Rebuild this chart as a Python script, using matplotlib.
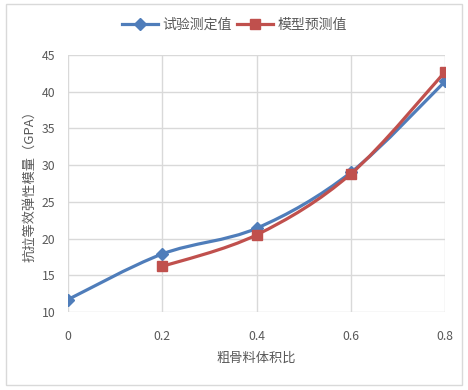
#! /usr/bin/env python3
"""Elastic modulus vs coarse aggregate volume ratio: test vs model."""

import matplotlib
matplotlib.use("Agg")
import matplotlib.pyplot as plt
from matplotlib.path import Path
from matplotlib.patches import PathPatch, Rectangle
from matplotlib.lines import Line2D

plt.rcParams["font.family"] = ["Noto Sans CJK SC", "DejaVu Sans"]

# data
test_x = [0, 0.2, 0.4, 0.6, 0.8]
test_y = [11.7, 17.9, 21.4, 29.0, 41.4]
model_x = [0.2, 0.4, 0.6, 0.8]
model_y = [16.2, 20.5, 28.8, 42.7]
x_ticks = [0, 0.2, 0.4, 0.6, 0.8]
x_tick_labels = ["0", "0.2", "0.4", "0.6", "0.8"]
y_ticks = [10, 15, 20, 25, 30, 35, 40, 45]

BLUE = "#4F7DBA"
RED = "#C0504D"
GRID = "#D9D9D9"
TEXT = "#595959"


def smooth_path(xs, ys):
    """Excel-style smoothed line as a cubic Bezier path through the points."""
    pts = list(zip(xs, ys))
    verts = [pts[0]]
    codes = [Path.MOVETO]
    n = len(pts)
    for i in range(n - 1):
        p0 = pts[i - 1] if i > 0 else pts[i]
        p1 = pts[i]
        p2 = pts[i + 1]
        p3 = pts[i + 2] if i + 2 < n else pts[i + 1]
        c1 = (p1[0] + (p2[0] - p0[0]) / 6, p1[1] + (p2[1] - p0[1]) / 6)
        c2 = (p2[0] - (p3[0] - p1[0]) / 6, p2[1] - (p3[1] - p1[1]) / 6)
        verts += [c1, c2, p2]
        codes += [Path.CURVE4] * 3
    return Path(verts, codes)


fig = plt.figure(figsize=(4.68, 3.9), dpi=100)
fig.patches.append(Rectangle((6 / 468, 5 / 390), 456 / 468, 381 / 390,
                             transform=fig.transFigure, fill=False,
                             edgecolor="#D9D9D9", linewidth=1))
ax = fig.add_axes([68 / 468, 78 / 390, 377 / 468, 257 / 390])

for xs, ys, color, marker, ms in [
    (test_x, test_y, BLUE, "D", 6.5),
    (model_x, model_y, RED, "s", 7.5),
]:
    ax.add_patch(PathPatch(smooth_path(xs, ys), facecolor="none",
                           edgecolor=color, linewidth=2.3, zorder=3))
    ax.plot(xs, ys, linestyle="none", marker=marker, markersize=ms,
            color=color, zorder=4)

ax.set_xlim(0, 0.8)
ax.set_ylim(10, 45)
ax.set_xticks(x_ticks)
ax.set_xticklabels(x_tick_labels)
ax.set_yticks(y_ticks)
ax.grid(True, color=GRID, linewidth=1)
ax.set_axisbelow(True)
for spine in ax.spines.values():
    spine.set_visible(False)
ax.tick_params(length=0, labelsize=8.8, colors=TEXT)
ax.tick_params(axis="x", pad=13)
ax.tick_params(axis="y", pad=9)
for lbl in ax.get_xticklabels() + ax.get_yticklabels():
    lbl.set_clip_on(False)

ax.set_xlabel("粗骨料体积比", fontsize=9.5, color=TEXT, labelpad=6)
ax.set_ylabel("抗拉等效弹性模量（GPA）", fontsize=9.5, color=TEXT, labelpad=4)

handles = [
    Line2D([], [], color=BLUE, marker="D", markersize=6, linewidth=2.3),
    Line2D([], [], color=RED, marker="s", markersize=7, linewidth=2.3),
]
fig.legend(handles, ["试验测定值", "模型预测值"], loc="center",
           bbox_to_anchor=(0.5, 1 - 25 / 390), ncol=2, frameon=False,
           fontsize=10, labelcolor=TEXT, handlelength=2.6,
           handletextpad=0.3, columnspacing=0.4)

fig.savefig("out.png", dpi=100)
